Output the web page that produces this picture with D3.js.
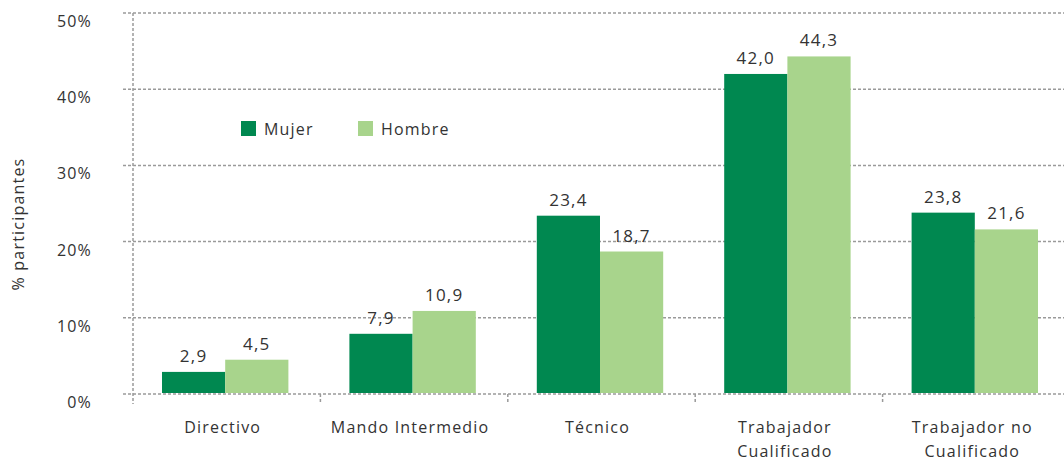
<!DOCTYPE html>
<html>
<head>
<meta charset="utf-8">
<script src="https://cdn.jsdelivr.net/npm/d3@7"></script>
<style>
  body { margin: 0; background: #fff; }
  svg text { font-family: "Open Sans", "Lato", sans-serif; fill: #333; letter-spacing: 1.2px; }
</style>
</head>
<body>
<svg id="chart" width="1064" height="461"></svg>
<script>
// data
var categories = ["Directivo", "Mando Intermedio", "Técnico", "Trabajador Cualificado", "Trabajador no Cualificado"];
var categoryLines = [["Directivo"], ["Mando Intermedio"], ["Técnico"], ["Trabajador", "Cualificado"], ["Trabajador no", "Cualificado"]];
var seriesNames = ["Mujer", "Hombre"];
var mujer = [2.9, 7.9, 23.4, 42.0, 23.8];
var hombre = [4.5, 10.9, 18.7, 44.3, 21.6];
var yTicks = [0, 10, 20, 30, 40, 50];

var colors = {"Mujer": "#008850", "Hombre": "#a8d48c"};

var svg = d3.select("#chart");
var margin = {left: 133, top: 13, right: -6, bottom: 67};
var width = 1064 - margin.left - margin.right;
var height = 461 - margin.top - margin.bottom;

var g = svg.append("g").attr("transform", "translate(" + margin.left + "," + margin.top + ")");

var x = d3.scaleBand().domain(categories).range([0, width]).paddingInner(0).paddingOuter(0);
var xs = d3.scaleBand().domain(seriesNames).range([29, x.bandwidth() - 32]).padding(0);
var y = d3.scaleLinear().domain([0, 50]).range([height, 0]);

// gridlines
var grid = g.append("g").attr("class", "grid");
grid.selectAll("line")
    .data(yTicks)
    .enter().append("line")
    .attr("x1", -10)
    .attr("x2", width)
    .attr("y1", function(d){ return y(d); })
    .attr("y2", function(d){ return y(d); })
    .attr("stroke", "#9a9a9a")
    .attr("stroke-width", 1.5)
    .attr("stroke-dasharray", "3,2");

// y axis line
g.append("line")
    .attr("x1", 0).attr("x2", 0)
    .attr("y1", y(50)).attr("y2", height + 10)
    .attr("stroke", "#9a9a9a")
    .attr("stroke-width", 1.5)
    .attr("stroke-dasharray", "3,2");

// x ticks at band edges
var edges = categories.map(function(c){ return x(c); }).slice(1);
g.selectAll(".xtick")
    .data(edges)
    .enter().append("line")
    .attr("class", "xtick")
    .attr("x1", function(d){ return d; })
    .attr("x2", function(d){ return d; })
    .attr("y1", height)
    .attr("y2", height + 10)
    .attr("stroke", "#9a9a9a")
    .attr("stroke-width", 1.5)
    .attr("stroke-dasharray", "3,2");

// y tick labels
g.selectAll(".ylab")
    .data(yTicks)
    .enter().append("text")
    .attr("class", "ylab")
    .attr("x", -41)
    .attr("y", function(d){ return y(d) + 14; })
    .attr("text-anchor", "end")
    .style("font-size", "16px")
    .text(function(d){ return d + "%"; });

// y axis title
svg.append("text")
    .attr("transform", "translate(24,224) rotate(-90)")
    .attr("text-anchor", "middle")
    .style("font-size", "16px")
    .text("% participantes");

// bars
var rows = categories.map(function(c, i){
    return {cat: c, values: [{s: "Mujer", v: mujer[i]}, {s: "Hombre", v: hombre[i]}]};
});

var groups = g.selectAll(".cat")
    .data(rows)
    .enter().append("g")
    .attr("class", "cat")
    .attr("transform", function(d){ return "translate(" + x(d.cat) + ",0)"; });

groups.selectAll("rect")
    .data(function(d){ return d.values; })
    .enter().append("rect")
    .attr("x", function(d){ return xs(d.s); })
    .attr("width", xs.bandwidth())
    .attr("y", function(d){ return y(d.v); })
    .attr("height", function(d){ return height - y(d.v) - 1; })
    .attr("fill", function(d){ return colors[d.s]; });

groups.selectAll(".val")
    .data(function(d){ return d.values; })
    .enter().append("text")
    .attr("class", "val")
    .attr("x", function(d){ return xs(d.s) + xs.bandwidth() / 2; })
    .attr("y", function(d){ return y(d.v) - 10; })
    .attr("text-anchor", "middle")
    .style("font-size", "17px")
    .text(function(d){ return d.v.toFixed(1).replace(".", ","); });

// category labels
var catLab = g.selectAll(".catlab")
    .data(categoryLines)
    .enter().append("text")
    .attr("class", "catlab")
    .attr("text-anchor", "middle")
    .attr("transform", function(d, i){ return "translate(" + (x(categories[i]) + x.bandwidth() / 2 - 4) + "," + (height + 39) + ")"; })
    .style("font-size", "16px");
catLab.selectAll("tspan")
    .data(function(d){ return d; })
    .enter().append("tspan")
    .attr("x", 0)
    .attr("dy", function(d, i){ return i === 0 ? 0 : 24; })
    .text(function(d){ return d; });

// legend
var legend = svg.append("g").attr("transform", "translate(241,121)");
var li = legend.selectAll("g")
    .data(seriesNames)
    .enter().append("g")
    .attr("transform", function(d, i){ return "translate(" + (i * 117) + ",0)"; });
li.append("rect")
    .attr("width", 15).attr("height", 15)
    .attr("fill", function(d){ return colors[d]; });
li.append("text")
    .attr("x", 23).attr("y", 14)
    .style("font-size", "16px")
    .text(function(d){ return d; });
</script>
</body>
</html>
